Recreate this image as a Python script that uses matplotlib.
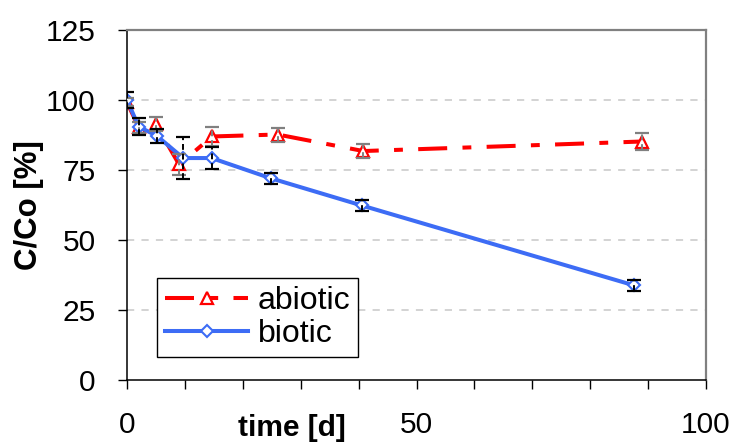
import matplotlib
matplotlib.use('Agg')
import matplotlib.pyplot as plt
from matplotlib.ticker import MultipleLocator

plt.rcParams['font.family'] = ['Liberation Sans', 'DejaVu Sans']

# abiotic series (red triangles, dash-dot)
t_abiotic = [0, 2, 5, 9, 14.7, 26, 40.8, 88.9]
c_abiotic = [99.1, 90.2, 91.2, 76.9, 86.9, 87.6, 81.7, 85.1]
e_abiotic = [1.5, 2.0, 2.5, 3.8, 3.4, 2.5, 2.5, 3.0]

# biotic series (blue diamonds, solid)
t_biotic = [0, 2, 5.1, 9.7, 14.6, 24.8, 40.5, 87.5]
c_biotic = [100, 90.4, 87.2, 79.2, 79.2, 72.0, 62.3, 33.8]
e_biotic = [2.8, 3.0, 2.5, 7.4, 3.9, 2.0, 2.0, 1.9]

y_ticks = [0, 25, 50, 75, 100, 125]
x_ticks = [0, 50, 100]

red = '#FF0000'
blue = '#3D6CF5'

fig = plt.figure(figsize=(7.36, 4.42), dpi=100)
ax = fig.add_axes([0.1726, 0.1403, 0.7867, 0.7925])

# light dashed horizontal grid
for y in y_ticks[1:-1]:
    ax.axhline(y, color='#d0d0d0', lw=1.3, dashes=(4, 4), zorder=0)

ab_line, = ax.plot(t_abiotic, c_abiotic, color=red, lw=2.9,
                   marker='^', ms=9, mfc='white', mec=red, mew=1.6,
                   label='abiotic', zorder=2)
ab_line.set_dashes((7.2, 3.8, 2.2, 3.8))
bi_line, = ax.plot(t_biotic, c_biotic, color=blue, lw=2.9,
                   marker='D', ms=6, mfc='white', mec=blue, mew=1.5,
                   label='biotic', zorder=3)

eb1 = ax.errorbar(t_abiotic, c_abiotic, yerr=e_abiotic, fmt='none',
                  ecolor='#808080', elinewidth=1.4, capsize=5, capthick=1.6,
                  zorder=4)
eb2 = ax.errorbar(t_biotic, c_biotic, yerr=e_biotic, fmt='none',
                  ecolor='black', elinewidth=1.4, capsize=5, capthick=1.6,
                  zorder=5)
for eb in (eb1, eb2):
    for lc in eb[2]:
        lc.set_linestyle((0, (3, 2)))

ax.set_xlim(0, 100)
ax.set_ylim(0, 125)
ax.set_xticks(x_ticks)
ax.xaxis.set_minor_locator(MultipleLocator(10))
ax.set_yticks(y_ticks)
ax.tick_params(axis='both', which='both', direction='out', length=6.5,
               width=1, labelsize=21.5, pad=16, color='black')

for s in ('left', 'bottom'):
    ax.spines[s].set_color('black')
    ax.spines[s].set_linewidth(1.1)
for s in ('top', 'right'):
    ax.spines[s].set_color('#808080')
    ax.spines[s].set_linewidth(1.6)

ax.set_xlabel('time [d]', fontsize=21.5, fontweight='bold')
ax.xaxis.set_label_coords(0.285, -0.137)
ax.xaxis.label.set_verticalalignment('center')
ax.set_ylabel('C/Co [%]', fontsize=22.5, fontweight='bold')
ax.yaxis.set_label_coords(-0.169, 0.5)
ax.yaxis.label.set_verticalalignment('center')

leg = ax.legend(handles=[ab_line, bi_line], loc='lower left',
                bbox_to_anchor=(0.052, 0.066), borderaxespad=0,
                fontsize=23, numpoints=1, handlelength=2.6,
                handletextpad=0.3, labelspacing=0.1, borderpad=0.25,
                fancybox=False, framealpha=1, edgecolor='black')
leg.get_frame().set_linewidth(1)

fig.savefig('out.png', dpi=100)
